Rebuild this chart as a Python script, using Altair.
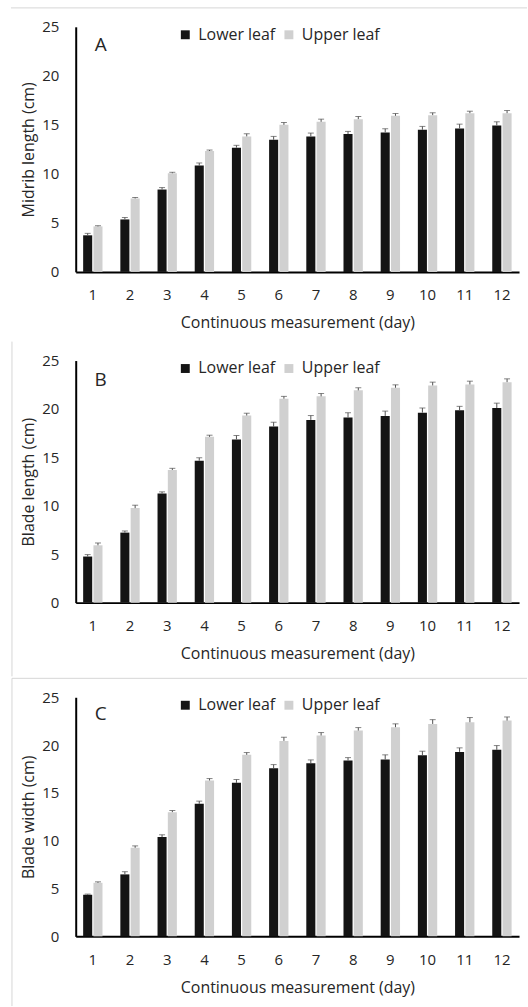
import altair as alt
import pandas as pd

days = list(range(1, 13))
series = ["Lower leaf", "Upper leaf"]

midrib_lower = [3.73, 5.35, 8.40, 10.84, 12.67, 13.48, 13.82, 14.06, 14.23, 14.50, 14.63, 14.94]
midrib_upper = [4.64, 7.49, 10.06, 12.33, 13.82, 15.00, 15.31, 15.58, 15.92, 15.99, 16.19, 16.19]
midrib_lower_err = [0.20, 0.20, 0.20, 0.27, 0.24, 0.34, 0.34, 0.27, 0.37, 0.34, 0.44, 0.37]
midrib_upper_err = [0.07, 0.10, 0.10, 0.10, 0.27, 0.24, 0.27, 0.27, 0.24, 0.24, 0.20, 0.27]

blen_lower = [4.76, 7.23, 11.27, 14.66, 16.85, 18.18, 18.87, 19.11, 19.28, 19.62, 19.86, 20.10]
blen_upper = [5.92, 9.76, 13.70, 17.12, 19.32, 21.06, 21.30, 21.92, 22.19, 22.43, 22.53, 22.77]
blen_lower_err = [0.20, 0.17, 0.17, 0.30, 0.41, 0.45, 0.45, 0.50, 0.50, 0.48, 0.41, 0.50]
blen_upper_err = [0.24, 0.30, 0.17, 0.17, 0.24, 0.24, 0.30, 0.27, 0.30, 0.34, 0.34, 0.34]

bwid_lower = [4.35, 6.48, 10.38, 13.86, 16.05, 17.58, 18.10, 18.38, 18.49, 18.94, 19.29, 19.50]
bwid_upper = [5.60, 9.26, 12.99, 16.30, 18.98, 20.44, 21.00, 21.52, 21.87, 22.21, 22.39, 22.56]
bwid_lower_err = [0.07, 0.28, 0.24, 0.28, 0.35, 0.38, 0.35, 0.31, 0.49, 0.42, 0.42, 0.45]
bwid_upper_err = [0.10, 0.20, 0.17, 0.20, 0.24, 0.38, 0.31, 0.31, 0.35, 0.45, 0.49, 0.38]

y_ticks = [0, 5, 10, 15, 20, 25]
colors = ["#141414", "#d0d0d0"]
FONT = "Open Sans"
TXT = "#262626"
FRAME = "#d6d6d6"
one = pd.DataFrame({"k": [0]})


def make_df(lower, upper, lerr, uerr):
    rows = []
    for i, d in enumerate(days):
        rows.append({"day": d, "leaf": series[0], "value": lower[i], "top": lower[i] + lerr[i]})
        rows.append({"day": d, "leaf": series[1], "value": upper[i], "top": upper[i] + uerr[i]})
    return pd.DataFrame(rows)


def frame_rule(x, x2, y, y2, color=FRAME):
    return alt.Chart(one).mark_rule(color=color, strokeWidth=1).encode(
        x=alt.value(x), x2=alt.value(x2), y=alt.value(y), y2=alt.value(y2))


def panel(df, ytitle, letter, height, letter_y, extras):
    xenc = alt.X("day:O", sort="ascending", title="Continuous measurement (day)",
                 scale=alt.Scale(paddingInner=0.48),
                 axis=alt.Axis(labelAngle=0, ticks=False, labelPadding=16,
                               titlePadding=12, domainColor="black", domainWidth=2))
    xoff = alt.XOffset("leaf:N", sort=series, scale=alt.Scale(paddingInner=0.12))
    yenc = alt.Y("value:Q", title=ytitle,
                 scale=alt.Scale(domain=[0, 25], nice=False),
                 axis=alt.Axis(values=y_ticks, ticks=False, grid=False, labelPadding=17,
                               titlePadding=5, domainColor="black", domainWidth=2))
    bars = alt.Chart(df).mark_bar().encode(
        x=xenc, xOffset=xoff, y=yenc,
        color=alt.Color("leaf:N", sort=series, title=None,
                        scale=alt.Scale(domain=series, range=colors),
                        legend=alt.Legend(orient="none", legendX=102, legendY=0,
                                          direction="horizontal", symbolType="square",
                                          symbolSize=80, symbolStrokeWidth=0,
                                          labelFontSize=16, labelFont=FONT, labelColor=TXT,
                                          columnPadding=5, symbolOffset=0, labelOffset=5,
                                          padding=0)),
    )
    err = alt.Chart(df).mark_rule(color="#505050", strokeWidth=1).encode(
        x=alt.X("day:O", sort="ascending"), xOffset=xoff, y="value:Q", y2="top:Q")
    cap = alt.Chart(df).mark_tick(color="#505050", thickness=1, size=6).encode(
        x=alt.X("day:O", sort="ascending"), xOffset=xoff, y="top:Q")
    lab = alt.Chart(one).mark_text(fontSize=19, font=FONT, color=TXT, fontWeight="normal").encode(
        x=alt.value(25), y=alt.value(letter_y), text=alt.value(letter))
    return alt.layer(bars, err, cap, lab, *extras).properties(width=445, height=height)


pA = panel(make_df(midrib_lower, midrib_upper, midrib_lower_err, midrib_upper_err),
           "Midrib length (cm)", "A", 246, 18,
           [frame_rule(-65, 453, -19, -19),
            frame_rule(-64, -64, 246 + 58, 246 + 68, color="white")])
pB = panel(make_df(blen_lower, blen_upper, blen_lower_err, blen_upper_err),
           "Blade length (cm)", "B", 243, 20,
           [frame_rule(-64, -64, -19, 317)])
pC = panel(make_df(bwid_lower, bwid_upper, bwid_lower_err, bwid_upper_err),
           "Blade width (cm)", "C", 240, 17,
           [frame_rule(-64, 453, -19, -19), frame_rule(-64, -64, -19, 310)])

chart = alt.vconcat(pA, pB, pC, spacing=0, background="white").resolve_scale(
    color="independent"
).properties(
    padding={"left": 10, "top": 5, "right": 0, "bottom": 0}
).configure_view(stroke=None).configure_axis(
    labelFont=FONT, titleFont=FONT, labelFontSize=15, titleFontSize=16,
    labelColor=TXT, titleColor=TXT, titleFontWeight="normal"
)

chart.save("out.html", embed_options={"renderer": "svg", "actions": False})
